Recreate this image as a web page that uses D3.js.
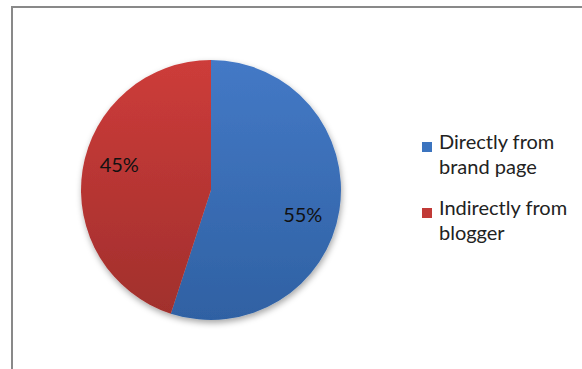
<!DOCTYPE html>
<html>
<head>
<meta charset="utf-8">
<script src="https://cdn.jsdelivr.net/npm/d3@7"></script>
<style>
  body { margin: 0; background: #fff; }
  text { font-family: Lato, "Open Sans", sans-serif; }
</style>
</head>
<body>
<div id="chart"></div>
<script>
var categories = ["Directly from brand page", "Indirectly from blogger"];
var legendLines = [["Directly from", "brand page"], ["Indirectly from", "blogger"]];
var values = [55, 45];
var labels = ["55%", "45%"];

var width = 582, height = 369;
var cx = 211, cy = 190, radius = 130;

var svg = d3.select("#chart").append("svg")
    .attr("width", width)
    .attr("height", height);

// chart frame (runs off the right and bottom of the picture)
svg.append("rect")
    .attr("x", 12).attr("y", 7)
    .attr("width", 600).attr("height", 400)
    .attr("fill", "#fff")
    .attr("stroke", "#898989")
    .attr("stroke-width", 2);

var defs = svg.append("defs");
var grads = [["#4479c6", "#2f61a3"], ["#cd3c3a", "#a02f2c"]];
grads.forEach(function(g, i) {
  var lg = defs.append("linearGradient")
      .attr("id", "g" + i)
      .attr("gradientUnits", "userSpaceOnUse")
      .attr("x1", 0).attr("y1", -radius)
      .attr("x2", 0).attr("y2", radius);
  lg.append("stop").attr("offset", "0%").attr("stop-color", g[0]);
  lg.append("stop").attr("offset", "100%").attr("stop-color", g[1]);
});
var f = defs.append("filter").attr("id", "shadow")
    .attr("x", "-20%").attr("y", "-20%").attr("width", "140%").attr("height", "140%");
f.append("feDropShadow")
    .attr("dx", 1).attr("dy", 3).attr("stdDeviation", 3)
    .attr("flood-color", "#000").attr("flood-opacity", 0.35);

var swatch = ["#3c74bf", "#c13a37"];

var pie = d3.pie().sort(null).value(function(d) { return d; });
var arc = d3.arc().innerRadius(0).outerRadius(radius);
var labelArc = d3.arc().innerRadius(95).outerRadius(95);
// excel nudges the labels a little clockwise of the slice middle
var nudge = 6 * Math.PI / 180;

var g = svg.append("g")
    .attr("transform", "translate(" + cx + "," + cy + ")");

var arcs = pie(values);

g.append("g").attr("filter", "url(#shadow)")
  .selectAll("path")
  .data(arcs)
  .enter().append("path")
    .attr("d", arc)
    .attr("fill", function(d, i) { return "url(#g" + i + ")"; });

g.selectAll(".lbl")
  .data(arcs)
  .enter().append("text")
    .attr("class", "lbl")
    .attr("transform", function(d) {
      var c = labelArc.centroid({startAngle: d.startAngle + nudge, endAngle: d.endAngle + nudge});
      return "translate(" + c[0] + "," + c[1] + ")";
    })
    .attr("text-anchor", "middle")
    .attr("dy", "0.35em")
    .attr("font-size", 20)
    .attr("fill", "#111")
    .text(function(d, i) { return labels[i]; });

// legend
var legend = svg.append("g").attr("transform", "translate(422,142)");
var item = legend.selectAll(".item")
  .data(categories)
  .enter().append("g")
    .attr("class", "item")
    .attr("transform", function(d, i) { return "translate(0," + (i * 66) + ")"; });

item.append("rect")
    .attr("width", 10).attr("height", 10)
    .attr("fill", function(d, i) { return swatch[i]; });

item.append("text")
    .attr("font-size", 20)
    .attr("fill", "#222")
    .each(function(d, i) {
      var t = d3.select(this);
      legendLines[i].forEach(function(line, j) {
        t.append("tspan").attr("x", 17).attr("y", 7 + j * 25).text(line);
      });
    });
</script>
</body>
</html>
